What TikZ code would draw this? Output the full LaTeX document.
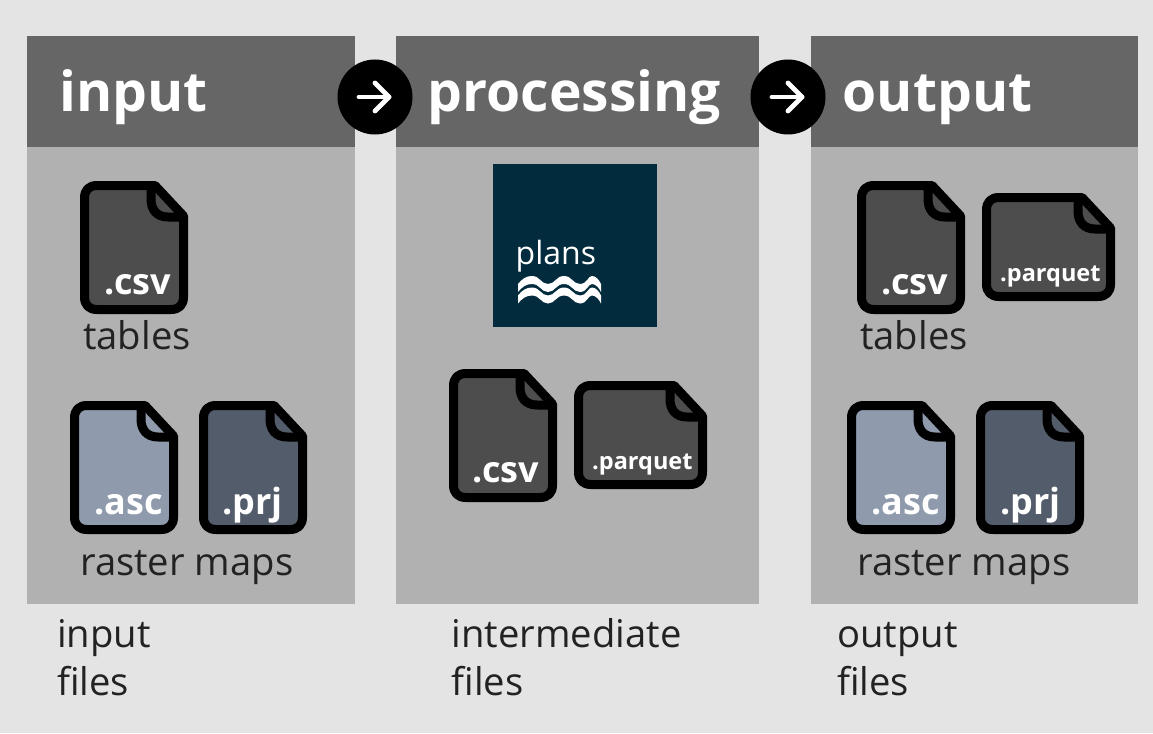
\documentclass[tikz,border=0pt]{standalone}
\usepackage{fontspec}
\setmainfont{Open Sans}
\definecolor{bgc}{HTML}{E4E4E4}
\definecolor{panelc}{HTML}{B1B1B1}
\definecolor{headc}{HTML}{666666}
\definecolor{darkf}{HTML}{4D4D4D}
\definecolor{ascf}{HTML}{8F9BAD}
\definecolor{prjf}{HTML}{535C6B}
\definecolor{plansc}{HTML}{022B3D}
\definecolor{txt}{HTML}{222222}
\newcommand{\fileicon}[9]{% name, x0, y0, x1, y1, fill, label, fontsize, label x offset
  \path[fill=#6] (#2+4,#3+14) ..controls (#2+4,#3+8) and (#2+8,#3+4) .. (#2+14,#3+4) -- (#4-32,#3+4) -- (#4-4,#3+34) -- (#4-4,#5-14) ..controls (#4-4,#5-8) and (#4-8,#5-4) .. (#4-14,#5-4) -- (#2+14,#5-4) ..controls (#2+8,#5-4) and (#2+4,#5-8) .. (#2+4,#5-14) -- cycle;
  \draw[iconline] (#2+4.5,#3+17) ..controls (#2+4.5,#3+9) and (#2+9,#3+4.5) .. (#2+17,#3+4.5) -- (#4-33,#3+4.5) -- (#4-4.5,#3+35) -- (#4-4.5,#5-17) ..controls (#4-4.5,#5-9) and (#4-9,#5-4.5) .. (#4-17,#5-4.5) -- (#2+17,#5-4.5) ..controls (#2+9,#5-4.5) and (#2+4.5,#5-9) .. (#2+4.5,#5-17) -- cycle;
  \draw[iconline] (#4-37,#3+4.5) -- (#4-37,#3+18) ..controls (#4-37,#3+29) and (#4-31,#3+36) .. (#4-20,#3+36) -- (#4-4.5,#3+36);
  \node[filelabel,font=\bfseries\fontsize{#8}{#8}\selectfont] (#1) at (#2+#9,#5-19.5) {#7};
}
\tikzset{
  x=1pt,y=-1pt,
  panel/.style={fill=panelc,draw=none},
  head/.style={fill=headc,draw=none},
  iconline/.style={draw=black,line width=9pt,line join=round},
  filelabel/.style={text=white,anchor=base west,inner sep=0pt},
  title/.style={text=white,anchor=base west,inner sep=0pt,font=\bfseries\fontsize{55.2}{55.2}\selectfont},
  caption/.style={text=txt,anchor=base west,inner sep=0pt,font=\fontsize{38.2}{38.2}\selectfont},
  note/.style={text=txt,anchor=base west,inner sep=0pt,font=\fontsize{38.2}{38.2}\selectfont},
  circ/.style={circle,fill=black,minimum size=75pt,inner sep=0pt},
  arrowline/.style={draw=white,line width=4.8pt,line cap=round,line join=round}
}
\begin{document}
\begin{tikzpicture}
\useasboundingbox (0,0) rectangle (1153,733);
\fill[bgc] (0,0) rectangle (1153,733);
% panels
\fill[panel] (27,147) rectangle (355,604);
\fill[head] (27,36) rectangle (355,147);
\fill[panel] (396,147) rectangle (759,604);
\fill[head] (396,36) rectangle (759,147);
\fill[panel] (811,147) rectangle (1138,604);
\fill[head] (811,36) rectangle (1138,147);
% titles
\node[title] (t1) at (59,112) {input};
\node[title] (t2) at (427.5,112) {processing};
\node[title] (t3) at (842.5,112) {output};
% arrows
\node[circ] (c1) at (375,97) {};
\node[circ] (c2) at (788,97) {};
\draw[arrowline] (359,97) -- (389,97);
\draw[arrowline] (375,83) -- (389,97) -- (375,111);
\draw[arrowline] (772,97) -- (802,97);
\draw[arrowline] (788,83) -- (802,97) -- (788,111);
% plans logo
\fill[plansc] (493,164) rectangle (657,327);
\node[anchor=base west,inner sep=0pt,text=white,font=\fontsize{32}{32}\selectfont] (plans) at (515.5,264) {plans};
\foreach \dy in {0,11.5}{
  \fill[white] (518,284+\dy) ..controls (522,279+\dy) and (526,276+\dy) .. (532,276+\dy)
    ..controls (540,276+\dy) and (541,284+\dy) .. (548,284+\dy)
    ..controls (555,284+\dy) and (556,276+\dy) .. (564,276+\dy)
    ..controls (572,276+\dy) and (573,284+\dy) .. (580,284+\dy)
    ..controls (587,284+\dy) and (588,276+\dy) .. (592,276+\dy)
    ..controls (596,276+\dy) and (599,280+\dy) .. (601,284+\dy)
    -- (601,292+\dy)
    ..controls (599,288+\dy) and (596,284+\dy) .. (592,284+\dy)
    ..controls (588,284+\dy) and (587,292+\dy) .. (580,292+\dy)
    ..controls (573,292+\dy) and (572,284+\dy) .. (564,284+\dy)
    ..controls (556,284+\dy) and (555,292+\dy) .. (548,292+\dy)
    ..controls (541,292+\dy) and (540,284+\dy) .. (532,284+\dy)
    ..controls (526,284+\dy) and (522,287+\dy) .. (518,292+\dy) -- cycle;
}
% files
\fileicon{f1}{80}{181}{188}{314}{darkf}{.csv}{36}{24}
\fileicon{f2}{70}{401}{178}{534}{ascf}{.asc}{36}{24}
\fileicon{f3}{199}{401}{307}{534}{prjf}{.prj}{36}{23}
\fileicon{f4}{449}{369}{557}{502}{darkf}{.csv}{36}{23}
\fileicon{f5}{574}{381}{707}{489}{darkf}{.parquet}{23.5}{18}
\fileicon{f6}{857}{181}{965}{314}{darkf}{.csv}{36}{24}
\fileicon{f7}{982}{193}{1115}{301}{darkf}{.parquet}{23.5}{18}
\fileicon{f8}{847}{401}{955}{534}{ascf}{.asc}{36}{24}
\fileicon{f9}{976}{401}{1084}{534}{prjf}{.prj}{36}{24}
% captions
\node[caption] (l1) at (83,349) {tables};
\node[caption] (l2) at (80,575) {raster maps};
\node[caption] (l3) at (860,349) {tables};
\node[caption] (l4) at (857,575) {raster maps};
\node[note] (n1a) at (57,647) {input};
\node[note] (n1b) at (57,695) {files};
\node[note] (n2a) at (451.5,647) {intermediate};
\node[note] (n2b) at (451.5,695) {files};
\node[note] (n3a) at (837,647) {output};
\node[note] (n3b) at (837,695) {files};
\end{tikzpicture}
\end{document}
